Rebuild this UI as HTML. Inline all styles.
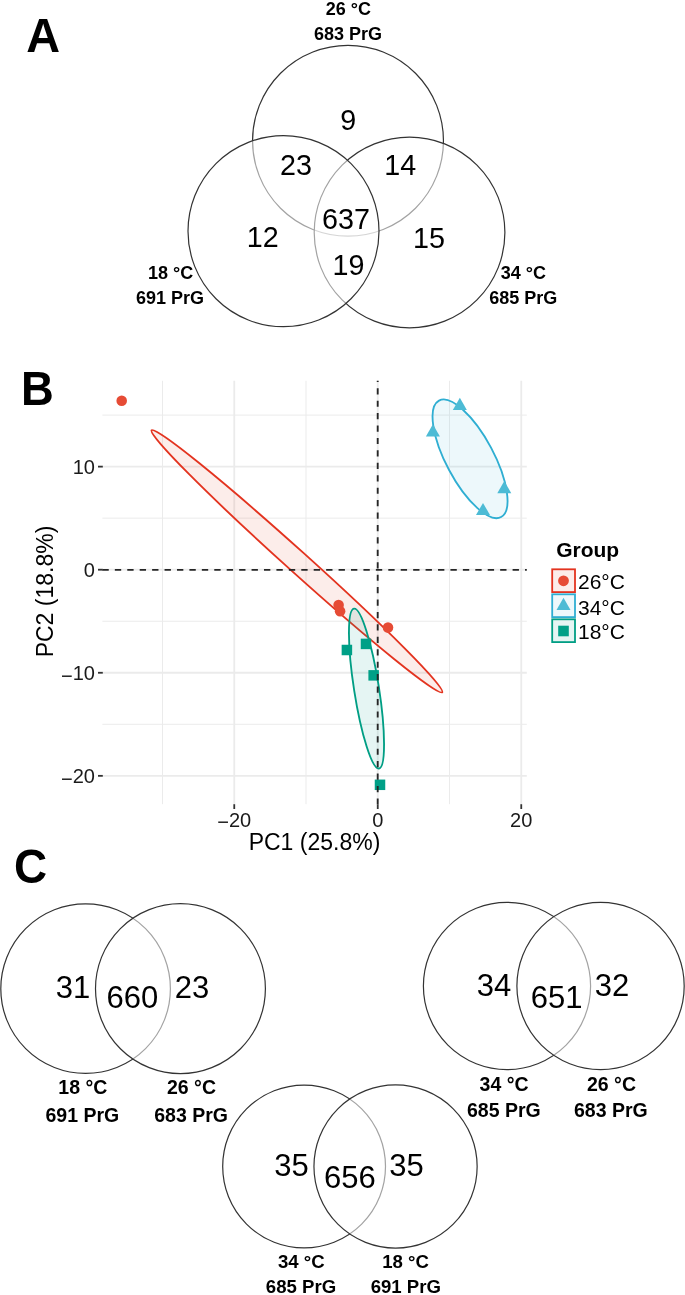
<!DOCTYPE html>
<html><head><meta charset="utf-8">
<style>
html,body{margin:0;padding:0;background:#fff;}
body{width:685px;height:1295px;overflow:hidden;}
svg{display:block;will-change:transform;}
text{font-family:"Liberation Sans",sans-serif;}
.vn{font-size:29px;fill:#000;}
.vc{font-size:32px;fill:#000;}
.lb{font-size:18px;font-weight:bold;fill:#000;}
.lb2{font-size:18.6px;font-weight:bold;fill:#000;}
.lc{font-size:19.5px;font-weight:bold;fill:#000;}
.pl{font-size:48.8px;font-weight:bold;fill:#000;}
.tk{font-size:21px;fill:#1a1a1a;}
.ax{font-size:23px;fill:#000;}
.lg{font-size:21px;fill:#000;}
.vcc{fill:#fff;fill-opacity:0.55;stroke:#333;stroke-width:1.2;}
</style></head>
<body>
<svg width="685" height="1295" viewBox="0 0 685 1295">
<rect width="685" height="1295" fill="#fff"/>
<text class="pl" transform="translate(26.2 51.6) scale(0.96 1)" text-anchor="start">A</text>
<circle class="vcc" cx="348" cy="140.75" r="95.45"/>
<circle class="vcc" cx="409.55" cy="232.5" r="95.35"/>
<circle class="vcc" cx="283.5" cy="231.2" r="95.5"/>
<text class="vn" transform="translate(348.3 130.4) scale(0.99 1)" text-anchor="middle">9</text>
<text class="vn" transform="translate(296 174.8) scale(0.99 1)" text-anchor="middle">23</text>
<text class="vn" transform="translate(400.2 175) scale(0.99 1)" text-anchor="middle">14</text>
<text class="vn" transform="translate(346 228.7) scale(0.99 1)" text-anchor="middle">637</text>
<text class="vn" transform="translate(262.7 247) scale(0.99 1)" text-anchor="middle">12</text>
<text class="vn" transform="translate(429.0 248) scale(0.99 1)" text-anchor="middle">15</text>
<text class="vn" transform="translate(348.5 275.3) scale(0.99 1)" text-anchor="middle">19</text>
<text class="lb" x="348.3" y="14.6" text-anchor="middle">26 °C</text>
<text class="lb" x="348" y="39.7" text-anchor="middle">683 PrG</text>
<text class="lb" x="170.6" y="279.1" text-anchor="middle">18 °C</text>
<text class="lb" x="170" y="303.9" text-anchor="middle">691 PrG</text>
<text class="lb" x="523.3" y="279" text-anchor="middle">34 °C</text>
<text class="lb" x="523.3" y="304" text-anchor="middle">685 PrG</text>
<text class="pl" transform="translate(21.0 405.1) scale(0.93 1)" text-anchor="start">B</text>
<g fill="none" stroke="#ebebeb">
<g stroke-width="1">
<line x1="102.4" y1="415.10" x2="526.8" y2="415.10"/>
<line x1="102.4" y1="518.17" x2="526.8" y2="518.17"/>
<line x1="102.4" y1="621.24" x2="526.8" y2="621.24"/>
<line x1="102.4" y1="724.31" x2="526.8" y2="724.31"/>
<line x1="162.50" y1="380.8" x2="162.50" y2="804.2"/>
<line x1="306.00" y1="380.8" x2="306.00" y2="804.2"/>
<line x1="449.50" y1="380.8" x2="449.50" y2="804.2"/>
</g><g stroke-width="1.8">
<line x1="102.4" y1="466.63" x2="526.8" y2="466.63"/>
<line x1="102.4" y1="569.70" x2="526.8" y2="569.70"/>
<line x1="102.4" y1="672.77" x2="526.8" y2="672.77"/>
<line x1="102.4" y1="775.84" x2="526.8" y2="775.84"/>
<line x1="234.25" y1="380.8" x2="234.25" y2="804.2"/>
<line x1="377.75" y1="380.8" x2="377.75" y2="804.2"/>
<line x1="521.25" y1="380.8" x2="521.25" y2="804.2"/>
</g></g>
<ellipse cx="296.9" cy="561.3" rx="195.7" ry="10.6" transform="rotate(42.03 296.9 561.3)" fill="#E64B35" fill-opacity="0.1" stroke="#E3331F" stroke-width="1.85"/>
<ellipse cx="470.05" cy="458.81" rx="66.0" ry="23.77" transform="rotate(61.94 470.05 458.81)" fill="#4DBBD5" fill-opacity="0.1" stroke="#2FAED2" stroke-width="1.85"/>
<ellipse cx="366.5" cy="688.6" rx="80.9" ry="12.45" transform="rotate(81.1 366.5 688.6)" fill="#00A087" fill-opacity="0.1" stroke="#009E84" stroke-width="1.85"/>
<g fill="#E64B35">
<circle cx="121.7" cy="400.7" r="5.3"/>
<circle cx="338.6" cy="605.1" r="5.3"/>
<circle cx="340.1" cy="611.2" r="5.3"/>
<circle cx="388" cy="627.6" r="5.3"/>
</g>
<g fill="#4DBBD5">
<path d="M459.85 397.80 L466.86 409.95 L452.84 409.95 Z"/>
<path d="M432.90 424.30 L439.91 436.45 L425.89 436.45 Z"/>
<path d="M504.30 481.00 L511.31 493.15 L497.29 493.15 Z"/>
<path d="M483.00 502.90 L490.01 515.05 L475.99 515.05 Z"/>
</g>
<g fill="#00A087">
<rect x="341.65" y="644.75" width="10.5" height="10.5"/>
<rect x="360.75" y="638.65" width="10.5" height="10.5"/>
<rect x="368.40" y="670.10" width="10.5" height="10.5"/>
<rect x="374.75" y="779.55" width="10.5" height="10.5"/>
</g>
<line x1="102.4" y1="569.8" x2="526.8" y2="569.8" stroke="#262626" stroke-width="1.85" stroke-dasharray="6.35 6.08"/>
<line x1="377.7" y1="380.8" x2="377.7" y2="804.2" stroke="#262626" stroke-width="1.85" stroke-dasharray="6.2 6.23" stroke-dashoffset="5.03"/>
<g stroke="#333" stroke-width="1.8">
<line x1="98" y1="466.63" x2="102.8" y2="466.63"/>
<line x1="98" y1="569.70" x2="102.8" y2="569.70"/>
<line x1="98" y1="672.77" x2="102.8" y2="672.77"/>
<line x1="98" y1="775.84" x2="102.8" y2="775.84"/>
<line x1="234.25" y1="804.2" x2="234.25" y2="809.0"/>
<line x1="377.75" y1="804.2" x2="377.75" y2="809.0"/>
<line x1="521.25" y1="804.2" x2="521.25" y2="809.0"/>
</g>
<text class="tk" transform="translate(95 474.23) scale(0.955 1)" text-anchor="end">10</text>
<text class="tk" transform="translate(95 577.30) scale(0.955 1)" text-anchor="end">0</text>
<text class="tk" transform="translate(95 680.37) scale(0.955 1)" text-anchor="end"><tspan dy="2.6">−</tspan><tspan dy="-2.6">10</tspan></text>
<text class="tk" transform="translate(95 783.44) scale(0.955 1)" text-anchor="end"><tspan dy="2.6">−</tspan><tspan dy="-2.6">20</tspan></text>
<text class="tk" transform="translate(234.25 826.5) scale(0.955 1)" text-anchor="middle"><tspan dy="2.6">−</tspan><tspan dy="-2.6">20</tspan></text>
<text class="tk" transform="translate(377.75 826.5) scale(0.955 1)" text-anchor="middle">0</text>
<text class="tk" transform="translate(521.25 826.5) scale(0.955 1)" text-anchor="middle">20</text>
<text class="ax" x="314.5" y="850.4" text-anchor="middle">PC1 (25.8%)</text>
<text class="ax" x="0" y="0" text-anchor="middle" transform="translate(52.9 591.5) rotate(-90)">PC2 (18.8%)</text>
<text x="556.2" y="557.3" style="font-size:21px;font-weight:bold;">Group</text>
<rect x="552.2" y="569.3" width="22.8" height="22.8" fill="#E64B35" fill-opacity="0.1" stroke="#E3331F" stroke-width="1.8"/>
<rect x="552.2" y="594.3" width="22.8" height="22.8" fill="#4DBBD5" fill-opacity="0.1" stroke="#2FAED2" stroke-width="1.8"/>
<rect x="552.2" y="619.3" width="22.8" height="22.8" fill="#00A087" fill-opacity="0.1" stroke="#009E84" stroke-width="1.8"/>
<circle cx="563.5" cy="580.8" r="5.4" fill="#E64B35"/>
<path d="M563.50 597.80 L570.51 609.95 L556.49 609.95 Z" fill="#4DBBD5"/>
<rect x="558.2" y="625.7" width="10.6" height="10.6" fill="#00A087"/>
<text class="lg" x="578" y="588.9">26°C</text>
<text class="lg" x="578" y="614.5">34°C</text>
<text class="lg" x="578" y="638.8">18°C</text>
<text class="pl" transform="translate(13.9 882.6) scale(0.94 1)" text-anchor="start">C</text>
<circle class="vcc" cx="85.6" cy="988.65" r="84.8"/>
<circle class="vcc" cx="180.45" cy="988.65" r="84.95"/>
<text class="vc" transform="translate(73.0 997.5) scale(0.97 1)" text-anchor="middle">31</text>
<text class="vc" transform="translate(132.5 1008.4) scale(0.97 1)" text-anchor="middle">660</text>
<text class="vc" transform="translate(192.1 997.5) scale(0.97 1)" text-anchor="middle">23</text>
<text class="lc" x="82.8" y="1094" text-anchor="middle">18 °C</text>
<text class="lc" x="82.3" y="1122" text-anchor="middle">691 PrG</text>
<text class="lc" x="191.5" y="1094" text-anchor="middle">26 °C</text>
<text class="lc" x="191.1" y="1122" text-anchor="middle">683 PrG</text>
<circle class="vcc" cx="507" cy="986" r="83.6"/>
<circle class="vcc" cx="600.55" cy="986" r="83.65"/>
<text class="vc" transform="translate(494 996.3) scale(0.97 1)" text-anchor="middle">34</text>
<text class="vc" transform="translate(556.7 1008.4) scale(0.97 1)" text-anchor="middle">651</text>
<text class="vc" transform="translate(612.1 996.3) scale(0.97 1)" text-anchor="middle">32</text>
<text class="lc" x="504.1" y="1091.4" text-anchor="middle">34 °C</text>
<text class="lc" x="503.8" y="1117" text-anchor="middle">685 PrG</text>
<text class="lc" x="611.5" y="1091.4" text-anchor="middle">26 °C</text>
<text class="lc" x="610.8" y="1117" text-anchor="middle">683 PrG</text>
<circle class="vcc" cx="304.1" cy="1166.5" r="81.4"/>
<circle class="vcc" cx="395.55" cy="1166.5" r="81.6"/>
<text class="vc" transform="translate(291.5 1175.6) scale(0.97 1)" text-anchor="middle">35</text>
<text class="vc" transform="translate(349.9 1188.2) scale(0.97 1)" text-anchor="middle">656</text>
<text class="vc" transform="translate(406.4 1175.6) scale(0.97 1)" text-anchor="middle">35</text>
<text class="lb2" x="301.3" y="1268.4" text-anchor="middle">34 °C</text>
<text class="lb2" x="301" y="1293.2" text-anchor="middle">685 PrG</text>
<text class="lb2" x="405.6" y="1268.4" text-anchor="middle">18 °C</text>
<text class="lb2" x="405.8" y="1293.2" text-anchor="middle">691 PrG</text>
</svg>
</body></html>
